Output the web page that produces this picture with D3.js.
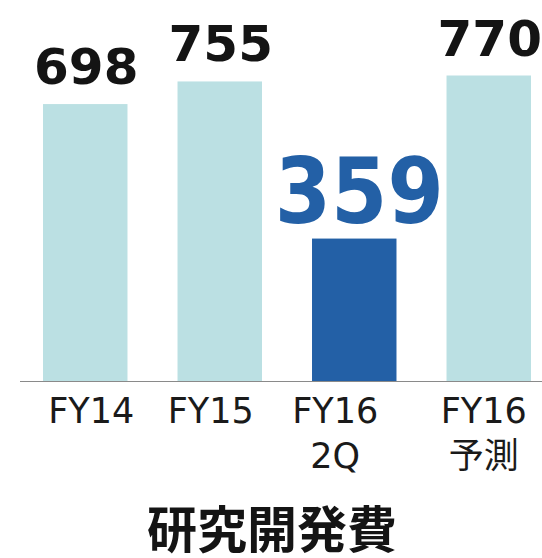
<!DOCTYPE html>
<html lang="ja">
  <head>
    <meta charset="UTF-8" />
    <title>研究開発費</title>
    <script src="https://cdn.jsdelivr.net/npm/d3@7"></script>
    <style>
      body { margin: 0; background: #fff; }
      svg { display: block; }
    </style>
  </head>
  <body>
    <svg width="542" height="558"></svg>
    <script>
      // data
      const categories = ["FY14", "FY15", "FY16 2Q", "FY16 予測"];
      const tickLines = [["FY14"], ["FY15"], ["FY16", "2Q"], ["FY16", "予測"]];
      const values = [698, 755, 359, 770];
      const highlight = "FY16 2Q";
      const title = "研究開発費";

      const width = 542, height = 558;
      const baseY = 381;
      const svg = d3.select("svg");

      const x = d3.scaleBand()
        .domain(categories)
        .range([18, 556])
        .paddingInner(0.372)
        .paddingOuter(0.186);

      const y = d3.scaleLinear().domain([0, 770]).range([baseY, 75.5]);

      const light = "#bbe0e3", dark = "#2360a6";

      svg.selectAll("rect.bar")
        .data(values)
        .join("rect")
        .attr("class", "bar")
        .attr("x", (d, i) => x(categories[i]))
        .attr("width", x.bandwidth())
        .attr("y", d => y(d))
        .attr("height", d => baseY - y(d))
        .attr("fill", (d, i) => categories[i] === highlight ? dark : light);

      // baseline
      svg.append("line")
        .attr("x1", 20).attr("x2", width)
        .attr("y1", baseY + 0.5).attr("y2", baseY + 0.5)
        .attr("stroke", "#8a8a8a").attr("stroke-width", 1.2);

      // value labels
      svg.selectAll("text.val")
        .data(values)
        .join("text")
        .attr("class", "val")
        .attr("font-family", "DejaVu Sans, sans-serif")
        .attr("font-weight", "bold")
        .attr("text-anchor", "middle")
        .attr("transform", (d, i) => {
          const cx = x(categories[i]) + x.bandwidth() / 2;
          if (categories[i] === highlight)
            return `translate(${cx + 5},${y(d) - 16}) scale(1,1.12)`;
          return `translate(${cx + 1},${y(d) - 20})`;
        })
        .attr("font-size", (d, i) => categories[i] === highlight ? 81 : 50)
        .attr("fill", (d, i) => categories[i] === highlight ? dark : "#141414")
        .text(d => d);

      // category labels (slightly nudged like the original)
      const nudge = [6, -9, -19, -5];
      const ticks = svg.selectAll("text.tick")
        .data(tickLines)
        .join("text")
        .attr("class", "tick")
        .attr("font-family", "DejaVu Sans, Noto Sans CJK JP, sans-serif")
        .attr("font-size", 35)
        .attr("fill", "#1a1a1a")
        .attr("text-anchor", "middle");
      ticks.selectAll("tspan")
        .data((d, i) => d.map(t => ({ t, i })))
        .join("tspan")
        .attr("x", d => x(categories[d.i]) + x.bandwidth() / 2 + nudge[d.i])
        .attr("y", (d, j) => 423 + j * 45)
        .text(d => d.t);

      svg.append("text")
        .attr("x", 272)
        .attr("y", 548)
        .attr("text-anchor", "middle")
        .attr("font-family", "Noto Sans CJK JP, sans-serif")
        .attr("font-weight", "bold")
        .attr("font-size", 50)
        .attr("fill", "#141414")
        .text(title);
    </script>
  </body>
</html>
